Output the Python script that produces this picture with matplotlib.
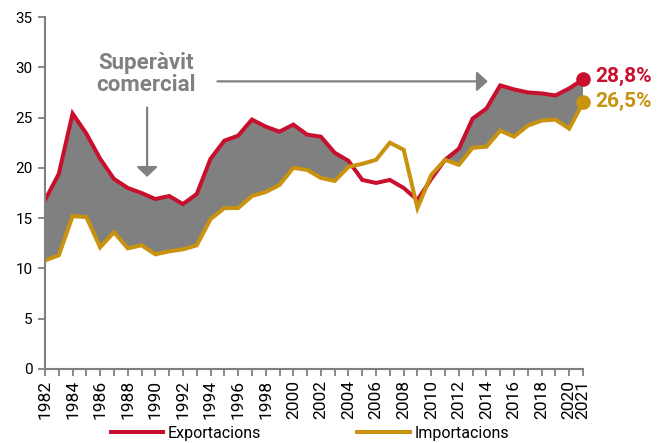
import numpy as np
import matplotlib
matplotlib.use('Agg')
import matplotlib.pyplot as plt
from matplotlib.ticker import FixedLocator, MultipleLocator

RED = "#C8102E"
GOLD = "#C9920F"
GREY = "#808080"

plt.rcParams['font.family'] = ['Roboto', 'DejaVu Sans']

years = np.arange(1982, 2022)
exports = [16.8, 19.4, 25.4, 23.4, 20.9, 18.9, 18.0, 17.5, 16.9, 17.2,
           16.4, 17.4, 20.9, 22.7, 23.2, 24.8, 24.1, 23.6, 24.3, 23.3,
           23.1, 21.5, 20.7, 18.8, 18.5, 18.8, 18.0, 16.8, 18.9, 20.8,
           21.9, 24.9, 25.9, 28.2, 27.8, 27.5, 27.4, 27.2, 27.9, 28.8]
imports = [10.8, 11.3, 15.2, 15.1, 12.1, 13.6, 12.0, 12.3, 11.4, 11.7,
           11.9, 12.3, 14.9, 16.0, 16.0, 17.2, 17.6, 18.3, 20.0, 19.8,
           19.0, 18.7, 20.1, 20.4, 20.8, 22.5, 21.8, 16.0, 19.3, 20.8,
           20.3, 22.0, 22.1, 23.7, 23.1, 24.2, 24.7, 24.8, 23.9, 26.5]
tick_labels = [str(y) for y in range(1982, 2021, 2)] + ['2021']
tick_years = list(range(1982, 2021, 2)) + [2021]

exp = np.array(exports)
imp = np.array(imports)

fig = plt.figure(figsize=(6.71, 4.43), dpi=100)
ax = fig.add_axes([45 / 671, 74 / 443, 538 / 671, 352 / 443])

ax.fill_between(years, exp, imp, where=exp >= imp, interpolate=True,
                color=GREY, linewidth=0)
ax.plot(years, exp, color=RED, lw=2.9, solid_joinstyle='miter', label='Exportacions')
ax.plot(years, imp, color=GOLD, lw=2.9, solid_joinstyle='miter', label='Importacions')

# end points + labels
ax.plot(years[-1], exp[-1], 'o', color=RED, ms=9.5, clip_on=False)
ax.plot(years[-1], imp[-1], 'o', color=GOLD, ms=9.5, clip_on=False)
ax.annotate(f"{exp[-1]:.1f}%".replace('.', ','), (years[-1], exp[-1]),
            xytext=(9, 2), textcoords='offset points', ha='left', va='center',
            color=RED, fontsize=15, fontweight='bold', annotation_clip=False)
ax.annotate(f"{imp[-1]:.1f}%".replace('.', ','), (years[-1], imp[-1]),
            xytext=(9, 1), textcoords='offset points', ha='left', va='center',
            color=GOLD, fontsize=15, fontweight='bold', annotation_clip=False)

# annotation
ax.text(1989.3, 29.3, 'Superàvit\ncomercial', ha='center', va='center',
        color=GREY, fontsize=16, fontweight='bold', linespacing=1.0)
ax.annotate('', xy=(1989.4, 19.1), xytext=(1989.4, 26.0),
            arrowprops=dict(arrowstyle='-|>,head_length=0.3,head_width=0.32',
                            color=GREY, lw=1.6, mutation_scale=20,
                            shrinkA=0, shrinkB=0))
ax.annotate('', xy=(2014.1, 28.6), xytext=(1994.5, 28.6),
            arrowprops=dict(arrowstyle='-|>,head_length=0.33,head_width=0.3',
                            color=GREY, lw=1.6, mutation_scale=20,
                            shrinkA=0, shrinkB=0))

ax.set_xlim(1982, 2021)
ax.set_ylim(0, 35)
ax.yaxis.set_major_locator(MultipleLocator(5))
ax.xaxis.set_major_locator(FixedLocator(tick_years))
ax.set_xticklabels(tick_labels, rotation=90, fontsize=12.5)
ax.xaxis.set_minor_locator(MultipleLocator(1))
ax.tick_params(axis='y', labelsize=11, length=5, width=1.3, color=GREY, pad=4)
ax.tick_params(axis='x', which='both', length=5, width=1.3, color=GREY, pad=3)

for side in ('top', 'right'):
    ax.spines[side].set_visible(False)
for side in ('left', 'bottom'):
    ax.spines[side].set_color(GREY)
    ax.spines[side].set_linewidth(1.5)

fig.legend(loc='center', bbox_to_anchor=(0.462, 0.022),
           ncol=2, frameon=False, fontsize=11.5, handlelength=3.3,
           handletextpad=0.3, columnspacing=6.0)

fig.savefig('out.png', dpi=100)
